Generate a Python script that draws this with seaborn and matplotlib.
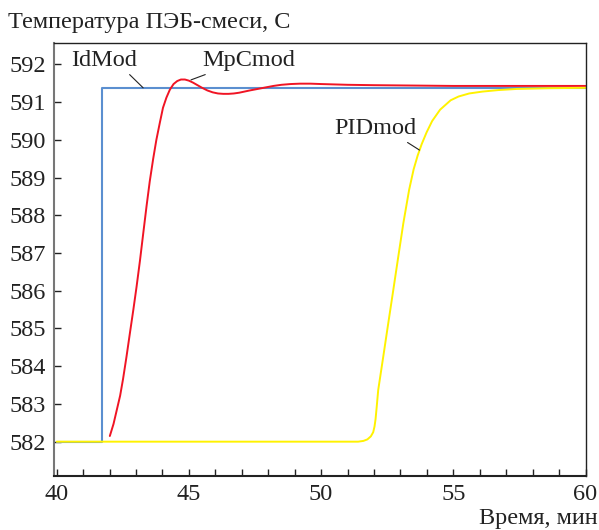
import matplotlib
matplotlib.use("Agg")
import matplotlib.pyplot as plt
import seaborn as sns
import pandas as pd

# --- data ---
id_time = [40.0, 41.71, 41.71, 60.0]
id_temp = [582.0, 582.0, 591.38, 591.38]

mpc_time = [42.01, 42.15, 42.26, 42.4, 42.51, 42.64, 42.77, 42.9, 43.02, 43.15,
            43.27, 43.4, 43.52, 43.65, 43.77, 43.9, 44.02, 44.15, 44.28, 44.42,
            44.56, 44.7, 44.85, 45.0, 45.15, 45.3, 45.5, 45.7, 45.9, 46.1,
            46.3, 46.5, 46.7, 46.9, 47.1, 47.3, 47.6, 47.9, 48.2, 48.5,
            48.85, 49.2, 49.6, 50.0, 50.5, 51.0, 52.0, 53.5, 55.0, 60.0]
mpc_temp = [582.15, 582.47, 582.8, 583.22, 583.66, 584.25, 584.88, 585.5, 586.1, 586.8,
            587.5, 588.25, 588.9, 589.5, 590.0, 590.45, 590.85, 591.12, 591.33, 591.48,
            591.56, 591.6, 591.6, 591.57, 591.52, 591.46, 591.38, 591.31, 591.26, 591.23,
            591.22, 591.22, 591.23, 591.25, 591.28, 591.31, 591.35, 591.39, 591.43, 591.46,
            591.48, 591.49, 591.49, 591.48, 591.47, 591.46, 591.45, 591.44, 591.43, 591.43]

pid_time = [40.0, 51.4, 51.6, 51.75, 51.88, 51.97, 52.02, 52.06, 52.1, 52.16,
            52.35, 52.54, 52.73, 52.92, 53.11, 53.33, 53.5, 53.65, 53.8, 53.99,
            54.2, 54.5, 54.9, 55.2, 55.6, 56.1, 56.7, 57.4, 58.6, 60.0]
pid_temp = [582.0, 582.0, 582.02, 582.06, 582.14, 582.25, 582.4, 582.6, 582.9, 583.37,
            584.25, 585.14, 586.02, 586.91, 587.79, 588.68, 589.22, 589.58, 589.88, 590.2,
            590.5, 590.8, 591.05, 591.15, 591.23, 591.28, 591.32, 591.35, 591.37, 591.38]

labels = ["IdMod", "MpCmod", "PIDmod"]
x_ticks = [40, 45, 50, 55, 60]
y_ticks = list(range(582, 593))

sns.set_theme(style="white")
plt.rcParams['font.family'] = ['Liberation Serif', 'DejaVu Serif']

fig = plt.figure(figsize=(5.99, 5.30), dpi=100)
ax = fig.add_axes([0.0902, 0.1019, 0.8873, 0.8164])

df_id = pd.DataFrame({"t": id_time, "T": id_temp})
df_mpc = pd.DataFrame({"t": mpc_time, "T": mpc_temp})
df_pid = pd.DataFrame({"t": pid_time, "T": pid_temp})

sns.lineplot(data=df_id, x="t", y="T", ax=ax, color="#5b8fd0", lw=1.5,
             estimator=None, sort=False)
sns.lineplot(data=df_mpc, x="t", y="T", ax=ax, color="#f01424", lw=1.4,
             estimator=None, sort=False)
sns.lineplot(data=df_pid, x="t", y="T", ax=ax, color="#fff200", lw=1.4,
             estimator=None, sort=False)

ax.set_xlim(39.9, 60.0)
ax.set_ylim(581.09, 592.56)
ax.set_xticks(x_ticks)
ax.set_xticks(range(40, 61), minor=True)
ax.set_yticks(y_ticks)
ax.set_xlabel("")
ax.set_ylabel("")

for s in ["top", "right"]:
    ax.spines[s].set_color("#222222")
    ax.spines[s].set_linewidth(1.0)
ax.spines["bottom"].set_color("#222222")
ax.spines["bottom"].set_linewidth(1.5)
ax.spines["left"].set_color("#777777")
ax.spines["left"].set_linewidth(1.5)

ax.tick_params(axis="x", which="both", direction="in", length=5, width=1,
               color="#222222", bottom=True, top=False, labelsize=17.5, pad=6,
               labelcolor="#222222")
ax.tick_params(axis="y", which="both", direction="in", length=5, width=1,
               color="#222222", left=True, right=False, labelsize=17.5, pad=6,
               labelcolor="#222222")

fig.text(0.013, 0.948, "Температура ПЭБ-смеси, С", fontsize=17.5, color="#222222",
         ha="left", va="baseline")
fig.text(0.998, 0.012, "Время, мин", fontsize=17.5, color="#222222",
         ha="right", va="baseline")

# annotations with leader lines
ax.annotate(labels[0], xy=(43.27, 591.38), xytext=(41.8, 591.95),
            fontsize=17.5, color="#222222", ha="center", va="baseline",
            arrowprops=dict(arrowstyle="-", color="#222222", lw=0.8,
                            shrinkA=0, shrinkB=0, relpos=(0.85, -0.05)))
ax.annotate(labels[1], xy=(45.08, 591.59), xytext=(47.25, 591.95),
            fontsize=17.5, color="#222222", ha="center", va="baseline",
            arrowprops=dict(arrowstyle="-", color="#222222", lw=0.8,
                            shrinkA=0, shrinkB=0, relpos=(0.1, -0.05)))
ax.annotate(labels[2], xy=(53.72, 589.73), xytext=(52.05, 590.15),
            fontsize=17.5, color="#222222", ha="center", va="baseline",
            arrowprops=dict(arrowstyle="-", color="#222222", lw=0.8,
                            shrinkA=0, shrinkB=0, relpos=(0.85, -0.05)))

fig.savefig("out.png", dpi=100)
